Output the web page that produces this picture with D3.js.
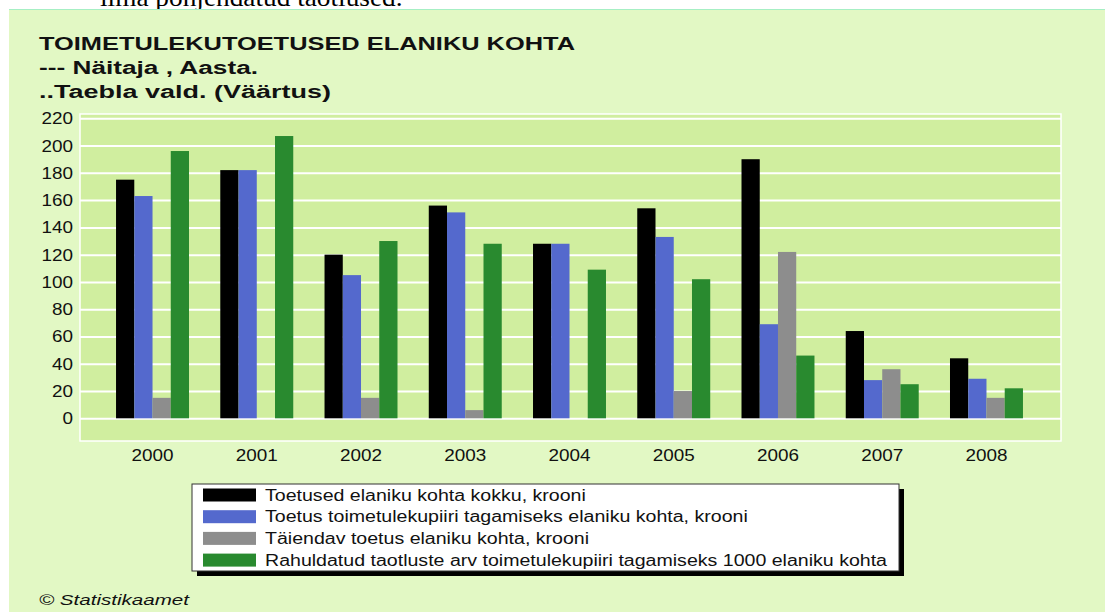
<!DOCTYPE html>
<html>
<head>
<meta charset="utf-8">
<script src="https://cdn.jsdelivr.net/npm/d3@7"></script>
<style>
  body { margin: 0; background: #fff; }
  svg { display: block; font-family: Arial, "Liberation Sans", sans-serif; }
</style>
</head>
<body>
<svg id="chart" width="1105" height="612"></svg>
<script>
const years = ['2000', '2001', '2002', '2003', '2004', '2005', '2006', '2007', '2008'];
const kokku = [175, 182, 120, 156, 128, 154, 190, 64, 44];
const toimetulek = [163, 182, 105, 151, 128, 133, 69, 28, 29];
const taiendav = [15, 0, 15, 6, 0, 20, 122, 36, 15];
const rahuldatud = [196, 207, 130, 128, 109, 102, 46, 25, 22];
const yTicks = [0, 20, 40, 60, 80, 100, 120, 140, 160, 180, 200, 220];
const seriesNames = [
  'Toetused elaniku kohta kokku, krooni',
  'Toetus toimetulekupiiri tagamiseks elaniku kohta, krooni',
  'Täiendav toetus elaniku kohta, krooni',
  'Rahuldatud taotluste arv toimetulekupiiri tagamiseks 1000 elaniku kohta'
];
const colors = ['#000000', '#5469cd', '#8d8d8d', '#298a2f'];

const series = [kokku, toimetulek, taiendav, rahuldatud];
const rows = years.map((yr, i) => ({ year: yr, values: series.map(s => s[i]) }));

const svg = d3.select('#chart');

// stretch text horizontally, the original picture is a bit wide
function stretch(sel, k) {
  sel.each(function () {
    const w = this.getComputedTextLength();
    if (w > 0) d3.select(this).attr('textLength', w * k).attr('lengthAdjust', 'spacingAndGlyphs');
  });
}

// cut off document text above the chart
svg.append('text')
  .attr('x', 100).attr('y', 6)
  .style('font-family', '"Liberation Serif", "Times New Roman", serif')
  .style('font-size', '26px')
  .text('ilma põhjendatud taotlused.')
  .call(stretch, 1.05);

// chart background
svg.append('rect')
  .attr('x', 9).attr('y', 9).attr('width', 1096).attr('height', 603)
  .attr('fill', '#e2f8c4');
svg.append('line')
  .attr('x1', 9).attr('x2', 1105).attr('y1', 9.5).attr('y2', 9.5)
  .attr('stroke', '#a6efc4');

// titles
const titles = [
  { t: 'TOIMETULEKUTOETUSED ELANIKU KOHTA', y: 50, w: 536 },
  { t: '--- Näitaja , Aasta.', y: 74, w: 219 },
  { t: '..Taebla vald. (Väärtus)', y: 98, w: 292 }
];
svg.selectAll('.title')
  .data(titles)
  .join('text')
  .attr('class', 'title')
  .attr('x', 39)
  .attr('y', d => d.y)
  .style('font-size', '18px')
  .style('font-weight', 'bold')
  .attr('fill', '#111')
  .attr('textLength', d => d.w)
  .attr('lengthAdjust', 'spacingAndGlyphs')
  .text(d => d.t);

// plot area
const plot = { left: 80, top: 114, right: 1061, bottom: 441 };
svg.append('rect')
  .attr('x', plot.left).attr('y', plot.top)
  .attr('width', plot.right - plot.left).attr('height', plot.bottom - plot.top)
  .attr('fill', '#d0ee9f')
  .attr('stroke', '#ffffff').attr('stroke-width', 1.5);

const x = d3.scaleBand()
  .domain(years)
  .range([100.4, 1038.6])
  .paddingInner(0.3)
  .paddingOuter(0.15);
const xs = d3.scaleBand()
  .domain(d3.range(series.length))
  .range([0, x.bandwidth()]);
const y = d3.scaleLinear()
  .domain([0, 220])
  .range([418.3, 118.3]);

// gridlines
const grid = svg.append('g')
  .attr('transform', `translate(${plot.left},0)`)
  .call(d3.axisLeft(y).tickValues(yTicks).tickSize(-(plot.right - plot.left)).tickFormat(''));
grid.select('.domain').remove();
grid.selectAll('line').attr('stroke', '#ffffff').attr('stroke-width', 2);

// y axis labels
const yAxis = svg.append('g')
  .attr('transform', `translate(${plot.left},0)`)
  .call(d3.axisLeft(y).tickValues(yTicks).tickSize(0).tickPadding(7));
yAxis.select('.domain').remove();
yAxis.selectAll('text')
  .style('font-size', '17px')
  .style('font-family', 'Arial, "Liberation Sans", sans-serif')
  .attr('fill', '#111')
  .call(stretch, 1.11);

// x axis labels
const xAxis = svg.append('g')
  .attr('transform', `translate(0,${plot.bottom})`)
  .call(d3.axisBottom(x).tickSize(0).tickPadding(8));
xAxis.select('.domain').remove();
xAxis.selectAll('text')
  .style('font-size', '17px')
  .style('font-family', 'Arial, "Liberation Sans", sans-serif')
  .attr('fill', '#111')
  .call(stretch, 1.11);

// bars
const groups = svg.selectAll('.group')
  .data(rows)
  .join('g')
  .attr('class', 'group')
  .attr('transform', d => `translate(${x(d.year)},0)`);
groups.selectAll('rect')
  .data(d => d.values.map((v, i) => ({ v, i })))
  .join('rect')
  .attr('x', d => xs(d.i))
  .attr('width', xs.bandwidth())
  .attr('y', d => y(d.v))
  .attr('height', d => y(0) - y(d.v))
  .attr('fill', d => colors[d.i]);

// legend
const lg = svg.append('g').attr('transform', 'translate(192,484)');
const lgW = 707, lgH = 87;
lg.append('rect')
  .attr('x', 5).attr('y', 5).attr('width', lgW).attr('height', lgH)
  .attr('fill', '#000');
lg.append('rect')
  .attr('x', 0).attr('y', 0).attr('width', lgW).attr('height', lgH)
  .attr('fill', '#fff').attr('stroke', '#333').attr('stroke-width', 1);
const items = lg.selectAll('.item')
  .data(seriesNames)
  .join('g')
  .attr('class', 'item')
  .attr('transform', (d, i) => `translate(0,${11 + i * 21.7})`);
items.append('rect')
  .attr('x', 11).attr('y', -6.5).attr('width', 53).attr('height', 13)
  .attr('fill', (d, i) => colors[i]);
const legendText = items.append('text')
  .attr('x', 73).attr('y', 5.5)
  .style('font-size', '16px')
  .attr('fill', '#111')
  .text(d => d);
let longest = 0;
legendText.each(function () { longest = Math.max(longest, this.getComputedTextLength()); });
legendText.call(stretch, 622 / longest);

// source
svg.append('text')
  .attr('x', 39).attr('y', 605)
  .style('font-size', '15px')
  .style('font-style', 'italic')
  .attr('fill', '#111')
  .attr('textLength', 150)
  .attr('lengthAdjust', 'spacingAndGlyphs')
  .text('© Statistikaamet');
</script>
</body>
</html>
